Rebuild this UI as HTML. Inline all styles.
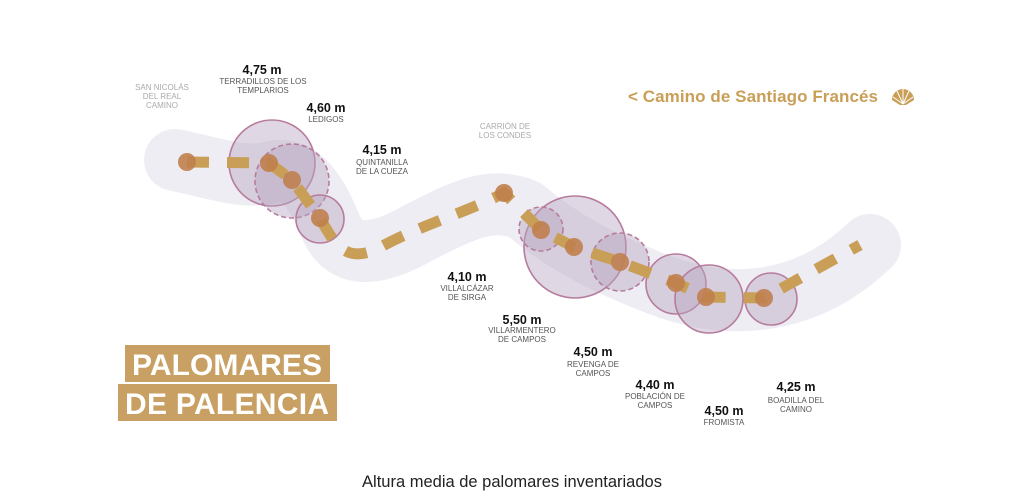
<!DOCTYPE html>
<html><head><meta charset="utf-8"><style>
body{margin:0;background:#fff;}
svg{display:block;font-family:"Liberation Sans",sans-serif;}
.v{font-size:12.5px;font-weight:bold;fill:#111;text-anchor:middle;}
.n{font-size:8px;fill:#555;text-anchor:middle;}
.g{font-size:8px;fill:#aaa;text-anchor:middle;}
</style></head><body>
<svg width="1024" height="499" viewBox="0 0 1024 499">
<path d="M175,160 C215,168 245,180 272,172 C300,165 318,195 330,225 C345,262 380,255 420,232 C460,212 490,195 525,210 C560,240 600,262 660,285 C720,308 800,312 870,245" fill="none" stroke="#eeedf4" stroke-width="62" stroke-linecap="round" stroke-linejoin="round"/>
<g fill="#b9a6c2" fill-opacity="0.45" stroke="#b77c9c" stroke-width="1.6">
<circle cx="272" cy="163" r="43"/>
<circle cx="292" cy="181" r="37" stroke-dasharray="5,3"/>
<circle cx="320" cy="219" r="24"/>
<circle cx="575" cy="247" r="51"/>
<circle cx="541" cy="229" r="22" stroke-dasharray="5,3"/>
<circle cx="620" cy="262" r="29" stroke-dasharray="5,3"/>
<circle cx="676" cy="284" r="30"/>
<circle cx="709" cy="299" r="34"/>
<circle cx="771" cy="299" r="26"/>
</g>
<path d="M187,162 L269,163 L292,180 L320,218 C335,245 345,262 375,250 C420,225 460,215 504,193 L541,230 L574,247 L620,262 L676,283 L706,297 L764,298 L860,245" fill="none" stroke="#c99f57" stroke-width="11" stroke-dasharray="22,18"/>
<g fill="#c07f4e" fill-opacity="0.9">
<circle cx="187" cy="162" r="9"/><circle cx="269" cy="163" r="9"/><circle cx="292" cy="180" r="9"/><circle cx="320" cy="218" r="9"/>
<circle cx="504" cy="193" r="9"/><circle cx="541" cy="230" r="9"/><circle cx="574" cy="247" r="9"/><circle cx="620" cy="262" r="9"/>
<circle cx="676" cy="283" r="9"/><circle cx="706" cy="297" r="9"/><circle cx="764" cy="298" r="9"/>
</g>
<text class="g" x="162" y="90">SAN NICOLÁS</text><text class="g" x="162" y="99">DEL REAL</text><text class="g" x="162" y="108">CAMINO</text>
<text class="v" x="262" y="74">4,75 m</text><text class="n" x="263" y="84">TERRADILLOS DE LOS</text><text class="n" x="263" y="93">TEMPLARIOS</text>
<text class="v" x="326" y="112">4,60 m</text><text class="n" x="326" y="122">LEDIGOS</text>
<text class="v" x="382" y="154">4,15 m</text><text class="n" x="382" y="165">QUINTANILLA</text><text class="n" x="382" y="174">DE LA CUEZA</text>
<text class="g" x="505" y="129">CARRIÓN DE</text><text class="g" x="505" y="138">LOS CONDES</text>
<text class="v" x="467" y="281">4,10 m</text><text class="n" x="467" y="291">VILLALCÁZAR</text><text class="n" x="467" y="300">DE SIRGA</text>
<text class="v" x="522" y="324">5,50 m</text><text class="n" x="522" y="333">VILLARMENTERO</text><text class="n" x="522" y="342">DE CAMPOS</text>
<text class="v" x="593" y="356">4,50 m</text><text class="n" x="593" y="367">REVENGA DE</text><text class="n" x="593" y="376">CAMPOS</text>
<text class="v" x="655" y="389">4,40 m</text><text class="n" x="655" y="399">POBLACIÓN DE</text><text class="n" x="655" y="408">CAMPOS</text>
<text class="v" x="724" y="415">4,50 m</text><text class="n" x="724" y="425">FROMISTA</text>
<text class="v" x="796" y="391">4,25 m</text><text class="n" x="796" y="403">BOADILLA DEL</text><text class="n" x="796" y="412">CAMINO</text>
<rect x="125" y="345" width="205" height="37" fill="#c9a063"/>
<rect x="118" y="384" width="219" height="37" fill="#c9a063"/>
<text x="227" y="375" fill="#fff" font-size="30" font-weight="bold" text-anchor="middle" textLength="190">PALOMARES</text>
<text x="227" y="414" fill="#fff" font-size="30" font-weight="bold" text-anchor="middle" textLength="204">DE PALENCIA</text>
<text x="628" y="102" fill="#c99f57" font-size="17" font-weight="bold" textLength="250">&lt; Camino de Santiago Francés</text>
<g transform="translate(903,97)" fill="#c99f57">
<path d="M-11,3 A11,11 0 0 1 11,3 L3,8 L-3,8 Z"/>
<g stroke="#fff" stroke-width="1"><line x1="0" y1="7" x2="0" y2="-8"/><line x1="0" y1="7" x2="-6" y2="-6"/><line x1="0" y1="7" x2="6" y2="-6"/><line x1="0" y1="7" x2="-10" y2="0"/><line x1="0" y1="7" x2="10" y2="0"/></g>
</g>
<text x="512" y="487" fill="#222" font-size="16.5" text-anchor="middle">Altura media de palomares inventariados</text>
</svg>
</body></html>
